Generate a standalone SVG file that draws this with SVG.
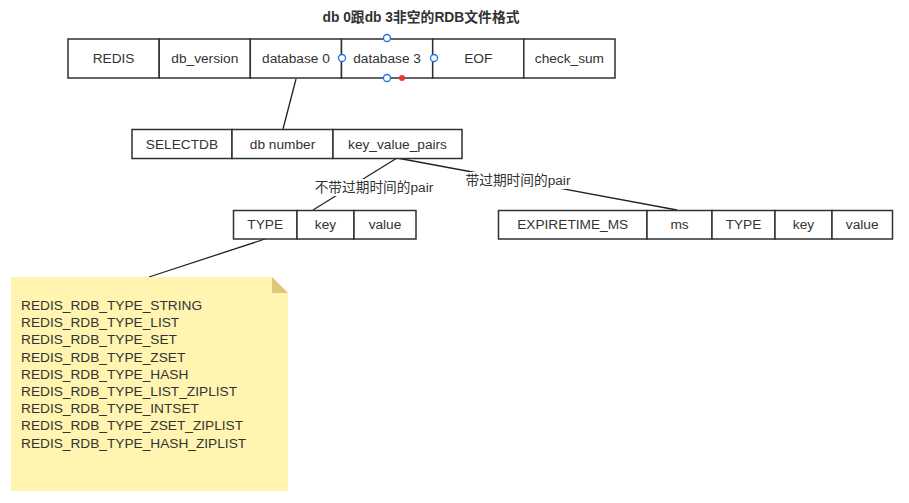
<svg xmlns="http://www.w3.org/2000/svg" width="909" height="503" viewBox="0 0 909 503">
<style>
.b{fill:#fff;stroke:#2f3133;stroke-width:1.5}
.t{font-family:"Liberation Sans","Noto Sans CJK SC",sans-serif;font-size:13.7px;fill:#333;text-anchor:middle;dominant-baseline:central}
.l{font-family:"Liberation Sans","Noto Sans CJK SC",sans-serif;font-size:13.7px;fill:#333}
.c{stroke:#222;stroke-width:1.3;fill:none}
.h{fill:#fff;stroke:#1a73e8;stroke-width:1.3}
</style>
<rect width="909" height="503" fill="#fff"/>
<text class="t" x="421" y="17" style="font-weight:bold;font-size:13.8px">db 0跟db 3非空的RDB文件格式</text>
<g id="connectors">
<line class="c" x1="296" y1="79" x2="283" y2="129"/>
<line class="c" x1="397" y1="158" x2="313" y2="210"/>
<line class="c" x1="397" y1="158" x2="677" y2="210"/>
<line class="c" x1="265" y1="239" x2="149" y2="277"/>
<rect x="312" y="179" width="123" height="17" fill="#fff"/>
<text class="t" x="374" y="187">不带过期时间的pair</text>
<rect x="462" y="172" width="112" height="17" fill="#fff"/>
<text class="t" x="518" y="180">带过期时间的pair</text>
</g>
<g id="rdb">
<rect class="b" x="68" y="39" width="91.2" height="39"/><text class="t" x="113.6" y="58.5">REDIS</text>
<rect class="b" x="159.2" y="39" width="91.1" height="39"/><text class="t" x="204.8" y="58.5">db_version</text>
<rect class="b" x="250.3" y="39" width="91.2" height="39"/><text class="t" x="295.9" y="58.5">database 0</text>
<rect class="b" x="341.5" y="39" width="91.2" height="39"/><text class="t" x="387.1" y="58.5">database 3</text>
<rect class="b" x="432.7" y="39" width="91.1" height="39"/><text class="t" x="478.3" y="58.5">EOF</text>
<rect class="b" x="523.8" y="39" width="91.2" height="39"/><text class="t" x="569.4" y="58.5">check_sum</text>
</g>
<g id="handles">
<circle class="h" cx="387" cy="38" r="3.5"/>
<circle class="h" cx="342" cy="58" r="3.5"/>
<circle class="h" cx="434" cy="58" r="3.5"/>
<circle class="h" cx="387" cy="78" r="3.5"/>
<circle cx="402" cy="78" r="3" fill="#e53935"/>
</g>
<g id="db">
<rect class="b" x="132" y="129.5" width="100" height="29"/><text class="t" x="182" y="144">SELECTDB</text>
<rect class="b" x="232" y="129.5" width="101" height="29"/><text class="t" x="282.5" y="144">db number</text>
<rect class="b" x="333" y="129.5" width="129" height="29"/><text class="t" x="397.5" y="144">key_value_pairs</text>
</g>
<g id="pair">
<rect class="b" x="233.5" y="210.5" width="63.5" height="28.5"/><text class="t" x="265.2" y="224">TYPE</text>
<rect class="b" x="297" y="210.5" width="57" height="28.5"/><text class="t" x="325.5" y="224">key</text>
<rect class="b" x="354" y="210.5" width="62" height="28.5"/><text class="t" x="385" y="224">value</text>
</g>
<g id="expire-pair">
<rect class="b" x="498.5" y="210.5" width="148.5" height="28.5"/><text class="t" x="572.7" y="224">EXPIRETIME_MS</text>
<rect class="b" x="647" y="210.5" width="65" height="28.5"/><text class="t" x="679.5" y="224">ms</text>
<rect class="b" x="712" y="210.5" width="63" height="28.5"/><text class="t" x="743.5" y="224">TYPE</text>
<rect class="b" x="775" y="210.5" width="57" height="28.5"/><text class="t" x="803.5" y="224">key</text>
<rect class="b" x="832" y="210.5" width="60.5" height="28.5"/><text class="t" x="862.2" y="224">value</text>
</g>
<g id="note">
<path d="M11 277 H272 L288 293 V491 H11 Z" fill="#fff5b1"/>
<path d="M272 277 L288 293 H272 Z" fill="#dcc77a"/>
<text class="l" x="21" y="310">REDIS_RDB_TYPE_STRING</text>
<text class="l" x="21" y="327.2">REDIS_RDB_TYPE_LIST</text>
<text class="l" x="21" y="344.4">REDIS_RDB_TYPE_SET</text>
<text class="l" x="21" y="361.6">REDIS_RDB_TYPE_ZSET</text>
<text class="l" x="21" y="378.8">REDIS_RDB_TYPE_HASH</text>
<text class="l" x="21" y="396">REDIS_RDB_TYPE_LIST_ZIPLIST</text>
<text class="l" x="21" y="413.2">REDIS_RDB_TYPE_INTSET</text>
<text class="l" x="21" y="430.4">REDIS_RDB_TYPE_ZSET_ZIPLIST</text>
<text class="l" x="21" y="447.6">REDIS_RDB_TYPE_HASH_ZIPLIST</text>
</g>
</svg>
